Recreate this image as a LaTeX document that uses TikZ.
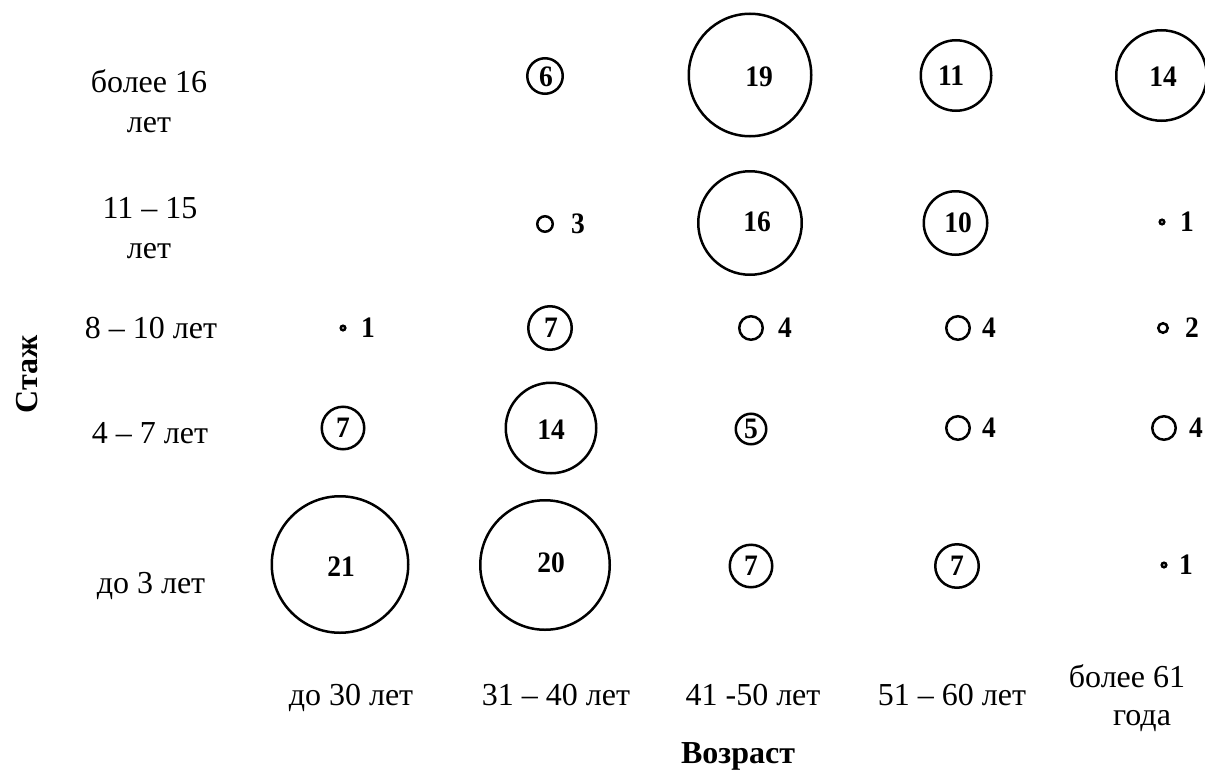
\documentclass[tikz,border=0pt]{standalone}
\usepackage{fontspec}
\setmainfont{Liberation Serif}
\begin{document}
\begin{tikzpicture}[x=1pt,y=-1pt,
  bub/.style={circle,draw,line width=2.5pt,inner sep=0pt,minimum size=#1},
  num/.style={inner sep=0pt,yscale=1.08,font=\bfseries\fontsize{27.5}{32}\selectfont},
  lab/.style={inner sep=0pt,anchor=base,font=\fontsize{32}{38}\selectfont},
  axis/.style={inner sep=0pt,anchor=base,font=\bfseries\fontsize{32}{38}\selectfont}]
\useasboundingbox (0,0) rectangle (1205,771);

% row labels
\node[lab] (r1a) at (149,92) {более 16};
\node[lab] (r1b) at (149,132) {лет};
\node[lab] (r2a) at (150,218) {11 – 15};
\node[lab] (r2b) at (149,258) {лет};
\node[lab] (r3) at (151,338) {8 – 10 лет};
\node[lab] (r4) at (150,443) {4 – 7 лет};
\node[lab] (r5) at (151,593) {до 3 лет};

% column labels
\node[lab] (k1) at (351,705) {до 30 лет};
\node[lab] (k2) at (556,705) {31 – 40 лет};
\node[lab] (k3) at (753,705) {41 -50 лет};
\node[lab] (k4) at (952,705) {51 – 60 лет};
\node[lab] (k5a) at (1127,687) {более 61};
\node[lab] (k5b) at (1142,725) {года};

% axis titles
\node[axis] (xt) at (738,763) {Возраст};
\node[axis,rotate=90] (yt) at (37,374) {Стаж};

% row 1
\node[bub=35.5pt] (c11) at (545,76) {};
\node[num] (n11) at (546,77) {6};
\node[bub=122.5pt] (c12) at (750,75) {};
\node[num] (n12) at (759,77) {19};
\node[bub=70.5pt] (c13) at (956,75.5) {};
\node[num] (n13) at (951,76) {11};
\node[bub=90.5pt] (c14) at (1161.5,75.5) {};
\node[num] (n14) at (1163,77) {14};

% row 2
\node[bub=15.5pt] (c21) at (545,224) {};
\node[num] (n21) at (578,224) {3};
\node[bub=103.5pt] (c22) at (750,223) {};
\node[num] (n22) at (757,222) {16};
\node[bub=63.5pt] (c23) at (955.5,223) {};
\node[num] (n23) at (958,223) {10};
\node[bub=4.5pt] (c24) at (1162,222) {};
\node[num] (n24) at (1187,222) {1};

% row 3
\node[bub=4.5pt] (c31) at (343,328) {};
\node[num] (n31) at (368,328) {1};
\node[bub=43.5pt] (c32) at (550,328) {};
\node[num] (n32) at (551,328) {7};
\node[bub=23.5pt] (c33) at (751,328) {};
\node[num] (n33) at (785,328) {4};
\node[bub=23.5pt] (c34) at (958,328) {};
\node[num] (n34) at (989,328) {4};
\node[bub=9.5pt] (c35) at (1163,328) {};
\node[num] (n35) at (1192,328) {2};

% row 4
\node[bub=42.5pt] (c41) at (343,428) {};
\node[num] (n41) at (343,428) {7};
\node[bub=90.5pt] (c42) at (551,428) {};
\node[num] (n42) at (551,430) {14};
\node[bub=30.5pt] (c43) at (751,429) {};
\node[num] (n43) at (751,429) {5};
\node[bub=23.5pt] (c44) at (958,428) {};
\node[num] (n44) at (989,428) {4};
\node[bub=23.5pt] (c45) at (1164,428) {};
\node[num] (n45) at (1196,428) {4};

% row 5
\node[bub=136.5pt] (c51) at (340,564.5) {};
\node[num] (n51) at (341,567) {21};
\node[bub=129.5pt] (c52) at (545,565) {};
\node[num] (n52) at (551,563) {20};
\node[bub=42.5pt] (c53) at (751,566) {};
\node[num] (n53) at (751,566) {7};
\node[bub=43.5pt] (c54) at (957,566) {};
\node[num] (n54) at (957,566) {7};
\node[bub=4.5pt] (c55) at (1164,565) {};
\node[num] (n55) at (1186,565) {1};
\end{tikzpicture}
\end{document}
